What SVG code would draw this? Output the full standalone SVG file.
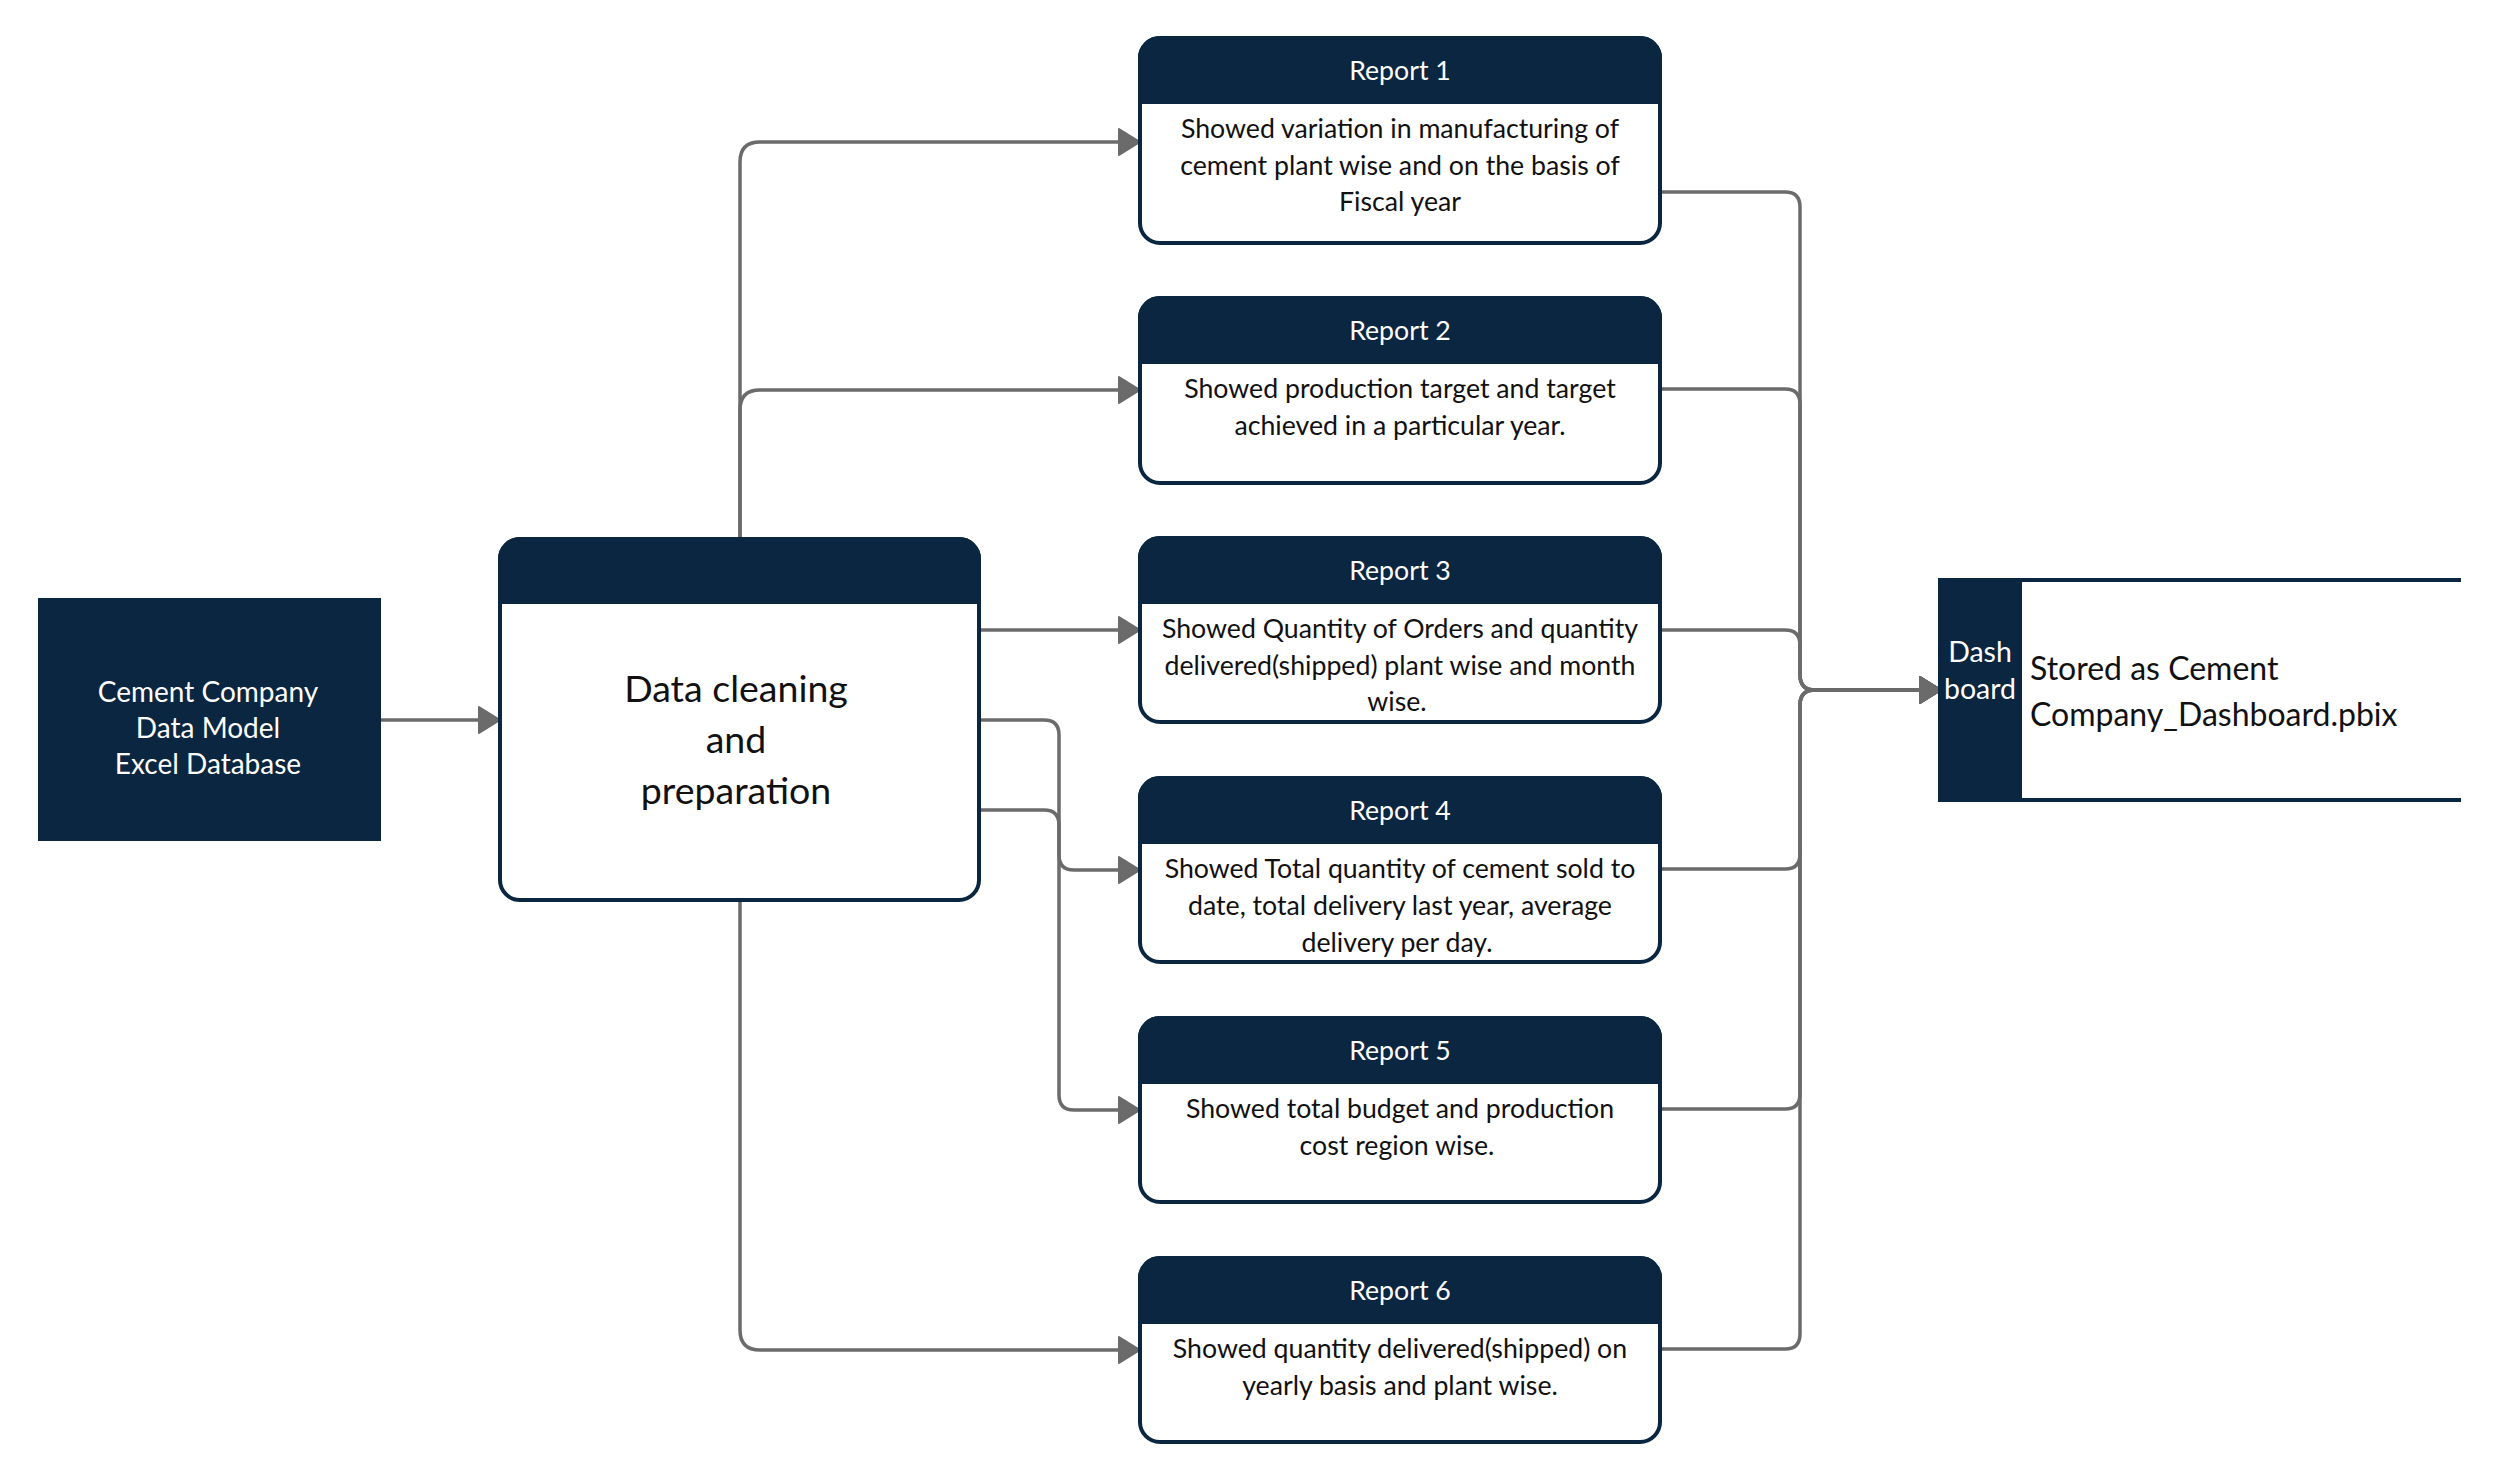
<svg xmlns="http://www.w3.org/2000/svg" width="2501" height="1482" viewBox="0 0 2501 1482">
<defs>
<style>
.nv{fill:#0b2640}
.box{fill:#fff;stroke:#0b2640;stroke-width:4}
.hd{fill:#0b2640;stroke:#0b2640;stroke-width:4;stroke-linejoin:round}
.t{font-family:Lato,"Open Sans","Liberation Sans",sans-serif;text-anchor:middle}
.w{fill:#fff}
.k{fill:#111}
.c{fill:none;stroke:#6b6b6b;stroke-width:3.5}
.ca{fill:none;stroke:#6b6b6b;stroke-width:3.5;marker-end:url(#ah)}
.tt{font-size:26.7px}
.bd{font-size:26.7px}
</style>
<marker id="ah" markerUnits="userSpaceOnUse" markerWidth="24" markerHeight="30" viewBox="0 0 24 30" refX="1" refY="15" orient="auto">
<path d="M1,2 L22,15 L1,28 Z" fill="#6b6b6b" stroke="#6b6b6b" stroke-width="2" stroke-linejoin="round"/>
</marker>
</defs>
<rect width="2501" height="1482" fill="#fff"/>

<g id="connectors">
<path class="ca" d="M381,720 H479"/>
<path class="ca" d="M740,539 V162 Q740,142 760,142 H1119"/>
<path class="ca" d="M740,539 V410 Q740,390 760,390 H1119"/>
<path class="ca" d="M979,630 H1119"/>
<path class="ca" d="M979,720 H1044 Q1059,720 1059,735 V855 Q1059,870 1074,870 H1119"/>
<path class="ca" d="M979,810 H1044 Q1059,810 1059,825 V1095 Q1059,1110 1074,1110 H1119"/>
<path class="ca" d="M740,900 V1330 Q740,1350 760,1350 H1119"/>
<path class="ca" d="M1660,192 H1785 Q1800,192 1800,207 V675 Q1800,690 1815,690 H1920"/>
<path class="ca" d="M1660,389 H1785 Q1800,389 1800,404 V675 Q1800,690 1815,690 H1920"/>
<path class="ca" d="M1660,630 H1785 Q1800,630 1800,645 V675 Q1800,690 1815,690 H1920"/>
<path class="ca" d="M1660,869 H1785 Q1800,869 1800,854 V705 Q1800,690 1815,690 H1920"/>
<path class="ca" d="M1660,1109 H1785 Q1800,1109 1800,1094 V705 Q1800,690 1815,690 H1920"/>
<path class="ca" d="M1660,1349 H1785 Q1800,1349 1800,1334 V705 Q1800,690 1815,690 H1920"/>
</g>

<g id="source">
<rect class="nv" x="38" y="598" width="343" height="243"/>
<text class="t w" font-size="28"><tspan x="208" y="702">Cement Company</tspan><tspan x="208" y="738">Data Model</tspan><tspan x="208" y="774">Excel Database</tspan></text>
</g>

<g id="prep">
<rect class="box" x="500" y="539" width="479" height="361" rx="20"/>
<path class="hd" d="M500,602 V559 A20,20 0 0 1 520,539 H959 A20,20 0 0 1 979,559 V602 Z"/>
<text class="t k" font-size="37.5"><tspan x="736" y="702">Data cleaning</tspan><tspan x="736" y="753">and</tspan><tspan x="736" y="804">preparation</tspan></text>
</g>

<g id="report1">
<rect class="box" x="1140" y="38" width="520" height="205" rx="20"/>
<path class="hd" d="M1140,102 V58 A20,20 0 0 1 1160,38 H1640 A20,20 0 0 1 1660,58 V102 Z"/>
<text class="t w tt" x="1400" y="80">Report 1</text>
<text class="t k bd"><tspan x="1400" y="138">Showed variation in manufacturing of</tspan><tspan x="1400" y="175">cement plant wise and on the basis of</tspan><tspan x="1400" y="211">Fiscal year</tspan></text>
</g>

<g id="report2">
<rect class="box" x="1140" y="298" width="520" height="185" rx="20"/>
<path class="hd" d="M1140,362 V318 A20,20 0 0 1 1160,298 H1640 A20,20 0 0 1 1660,318 V362 Z"/>
<text class="t w tt" x="1400" y="340">Report 2</text>
<text class="t k bd"><tspan x="1400" y="398">Showed production target and target</tspan><tspan x="1400" y="435">achieved in a particular year.</tspan></text>
</g>

<g id="report3">
<rect class="box" x="1140" y="538" width="520" height="184" rx="20"/>
<path class="hd" d="M1140,602 V558 A20,20 0 0 1 1160,538 H1640 A20,20 0 0 1 1660,558 V602 Z"/>
<text class="t w tt" x="1400" y="580">Report 3</text>
<text class="t k bd"><tspan x="1400" y="638">Showed Quantity of Orders and quantity</tspan><tspan x="1400" y="675">delivered(shipped) plant wise and month</tspan><tspan x="1397" y="711">wise.</tspan></text>
</g>

<g id="report4">
<rect class="box" x="1140" y="778" width="520" height="184" rx="20"/>
<path class="hd" d="M1140,842 V798 A20,20 0 0 1 1160,778 H1640 A20,20 0 0 1 1660,798 V842 Z"/>
<text class="t w tt" x="1400" y="820">Report 4</text>
<text class="t k bd"><tspan x="1400" y="878">Showed Total  quantity of cement sold to</tspan><tspan x="1400" y="915">date, total delivery last year, average</tspan><tspan x="1397" y="952">delivery per day.</tspan></text>
</g>

<g id="report5">
<rect class="box" x="1140" y="1018" width="520" height="184" rx="20"/>
<path class="hd" d="M1140,1082 V1038 A20,20 0 0 1 1160,1018 H1640 A20,20 0 0 1 1660,1038 V1082 Z"/>
<text class="t w tt" x="1400" y="1060">Report 5</text>
<text class="t k bd"><tspan x="1400" y="1118">Showed total budget and production</tspan><tspan x="1397" y="1155">cost region wise.</tspan></text>
</g>

<g id="report6">
<rect class="box" x="1140" y="1258" width="520" height="184" rx="20"/>
<path class="hd" d="M1140,1322 V1278 A20,20 0 0 1 1160,1258 H1640 A20,20 0 0 1 1660,1278 V1322 Z"/>
<text class="t w tt" x="1400" y="1300">Report 6</text>
<text class="t k bd"><tspan x="1400" y="1358">Showed quantity delivered(shipped) on</tspan><tspan x="1400" y="1395">yearly basis and plant wise.</tspan></text>
</g>

<g id="dashboard">
<rect class="nv" x="1938" y="578" width="84" height="224"/>
<line x1="2020" y1="580" x2="2461" y2="580" stroke="#0b2640" stroke-width="4"/>
<line x1="2020" y1="800" x2="2461" y2="800" stroke="#0b2640" stroke-width="4"/>
<text class="t w" font-size="28.5"><tspan x="1980" y="662">Dash</tspan><tspan x="1980" y="699">board</tspan></text>
<text font-family="Lato,'Open Sans','Liberation Sans',sans-serif" font-size="32" fill="#111"><tspan x="2030" y="680">Stored as Cement</tspan><tspan x="2030" y="726">Company_Dashboard.pbix</tspan></text>
</g>
</svg>
